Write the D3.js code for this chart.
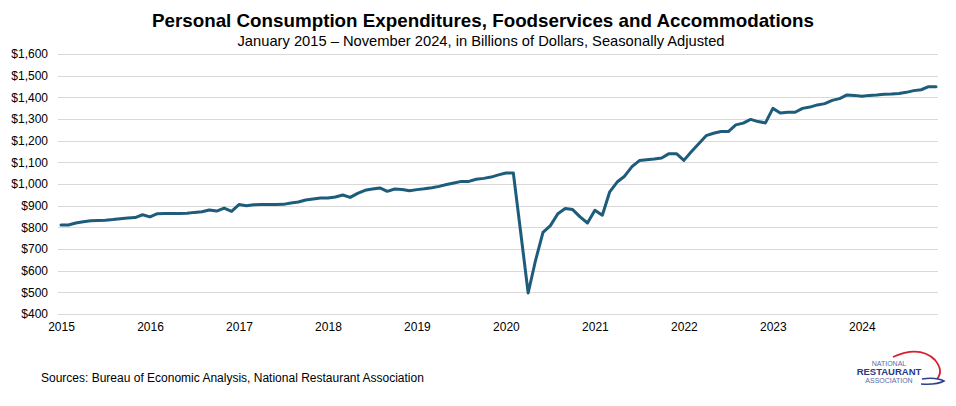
<!DOCTYPE html>
<html><head><meta charset="utf-8">
<script src="https://cdn.jsdelivr.net/npm/d3@7"></script>
<style>
html,body{margin:0;padding:0;background:#fff;}
svg{display:block;font-family:"Liberation Sans",Arial,sans-serif;}
</style></head>
<body><svg id="c" width="956" height="406"></svg>
<script>
const startYear = 2015;
const yearLabels = ["2015","2016","2017","2018","2019","2020","2021","2022","2023","2024"];
const yTicks = [400,500,600,700,800,900,1000,1100,1200,1300,1400,1500,1600];
// Monthly values, Jan 2015 - Nov 2024, billions of dollars
const values = [
 811, 811, 820, 826, 830, 832, 833, 836, 840, 843, 845, 858,
 848, 863, 864, 864, 864, 865, 869, 872, 880, 875, 889, 874,
 905, 900, 904, 905, 905, 905, 906, 912, 917, 926, 931, 935,
 935, 940, 949, 938, 957, 971, 977, 982, 966, 977, 975, 969,
 974, 978, 983, 989, 998, 1005, 1012, 1012, 1022, 1026, 1032, 1042,
 1051, 1051, 775, 497, 648, 777, 808, 863, 887, 882, 848, 820,
 879, 856, 964, 1009, 1036, 1080, 1108, 1112, 1115, 1120, 1140, 1140,
 1109, 1149, 1186, 1223, 1234, 1242, 1242, 1273, 1281, 1298, 1288, 1282,
 1349, 1328, 1331, 1331, 1349, 1355, 1365, 1371, 1386, 1394, 1411, 1409,
 1405, 1409, 1411, 1414, 1415, 1418, 1423, 1431, 1435, 1449, 1449
];
const title = "Personal Consumption Expenditures, Foodservices and Accommodations";
const subtitle = "January 2015 \u2013 November 2024, in Billions of Dollars, Seasonally Adjusted";
const source = "Sources: Bureau of Economic Analysis, National Restaurant Association";

const svg = d3.select("#c");
const x = d3.scaleLinear().domain([0, values.length - 1]).range([61, 936]);
const y = d3.scaleLinear().domain([400, 1600]).range([314, 54]);

// title
svg.append("text").attr("x", 483).attr("y", 27).attr("text-anchor", "middle")
  .attr("font-size", 19).attr("font-weight", "bold").attr("fill", "#000")
  .attr("textLength", 662).attr("lengthAdjust", "spacingAndGlyphs").text(title);
svg.append("text").attr("x", 481).attr("y", 46).attr("text-anchor", "middle")
  .attr("font-size", 14.5).attr("fill", "#000")
  .attr("textLength", 487).attr("lengthAdjust", "spacingAndGlyphs").text(subtitle);

// gridlines
svg.append("g").selectAll("line").data(yTicks).join("line")
  .attr("x1", 58).attr("x2", 938)
  .attr("y1", d => Math.round(y(d)) + 0.5).attr("y2", d => Math.round(y(d)) + 0.5)
  .attr("stroke", "#d9d9d9").attr("stroke-width", 1);

// y axis
const yAxis = svg.append("g").attr("transform", "translate(48,0)")
  .call(d3.axisLeft(y).tickValues(yTicks).tickSize(0).tickPadding(0)
    .tickFormat(d => "$" + d3.format(",")(d)));
yAxis.select(".domain").remove();
yAxis.selectAll("text").attr("font-size", 12).attr("fill", "#000")
  .attr("font-family", "'Liberation Sans',Arial,sans-serif");

// x axis
const xAxis = svg.append("g").attr("transform", "translate(0,322)")
  .call(d3.axisBottom(x).tickValues(yearLabels.map((d, i) => i * 12)).tickSize(0).tickPadding(0)
    .tickFormat((d, i) => yearLabels[i]));
xAxis.select(".domain").remove();
xAxis.selectAll("text").attr("font-size", 12).attr("fill", "#000")
  .attr("font-family", "'Liberation Sans',Arial,sans-serif");

// line
svg.append("path").datum(values)
  .attr("fill", "none").attr("stroke", "#1d5c7a").attr("stroke-width", 3)
  .attr("stroke-linejoin", "round").attr("stroke-linecap", "round")
  .attr("d", d3.line().x((d, i) => x(i)).y(d => y(d)));

// source
svg.append("text").attr("x", 41).attr("y", 382).attr("font-size", 12).attr("fill", "#000").text(source);

// logo
const logo = svg.append("g");
logo.append("path").attr("d", "M 893 357 Q 920 345 935 360 Q 944 371 937 379")
  .attr("fill", "none").attr("stroke", "#d7202f").attr("stroke-width", 1.8);
logo.append("path").attr("d", "M 922 379 Q 936 377 944 381 Q 937 385 921 384")
  .attr("fill", "none").attr("stroke", "#2e3f8f").attr("stroke-width", 1.5);
logo.append("text").attr("x", 889).attr("y", 366).attr("text-anchor", "middle")
  .attr("font-size", 7).attr("fill", "#5a6aa8").text("NATIONAL");
logo.append("text").attr("x", 889).attr("y", 375).attr("text-anchor", "middle")
  .attr("font-size", 9.5).attr("font-weight", "bold").attr("fill", "#263a87").text("RESTAURANT");
logo.append("text").attr("x", 889).attr("y", 383).attr("text-anchor", "middle")
  .attr("font-size", 7).attr("fill", "#5a6aa8").text("ASSOCIATION");
</script></body></html>
